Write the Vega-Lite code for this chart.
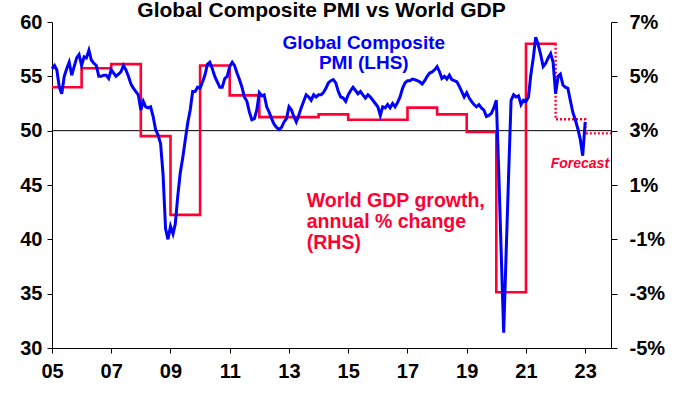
{
  "$schema": "https://vega.github.io/schema/vega-lite/v6.json",
  "width": 559,
  "height": 326,
  "autosize": "none",
  "padding": {"left": 52, "top": 22, "right": 71, "bottom": 46},
  "background": "white",
  "config": {
    "view": {"stroke": null},
    "font": "Liberation Sans",
    "axis": {
      "labelFont": "Liberation Sans",
      "labelFontWeight": "bold",
      "labelFontSize": 20,
      "labelColor": "black",
      "domainColor": "black",
      "tickColor": "black",
      "grid": false,
      "title": null
    }
  },
  "title": {
    "text": "Global Composite PMI vs World GDP",
    "font": "Liberation Sans",
    "fontSize": 21,
    "fontWeight": "bold",
    "color": "black",
    "anchor": "middle",
    "offset": -9,
    "dx": -10
  },
  "datasets": {
    "pmi": [
      {"date":"2005-01-01","pmi":55.7},{"date":"2005-02-01","pmi":56.0},{"date":"2005-03-01","pmi":55.6},{"date":"2005-04-01","pmi":54.0},{"date":"2005-05-01","pmi":53.4},{"date":"2005-06-01","pmi":55.0},{"date":"2005-07-01","pmi":55.7},{"date":"2005-08-01","pmi":56.3},{"date":"2005-09-01","pmi":55.1},{"date":"2005-10-01","pmi":55.9},{"date":"2005-11-01","pmi":56.7},{"date":"2005-12-01","pmi":57.0},
      {"date":"2006-01-01","pmi":56.0},{"date":"2006-02-01","pmi":56.8},{"date":"2006-03-01","pmi":56.7},{"date":"2006-04-01","pmi":57.4},{"date":"2006-05-01","pmi":56.5},{"date":"2006-06-01","pmi":56.2},{"date":"2006-07-01","pmi":56.0},{"date":"2006-08-01","pmi":55.0},{"date":"2006-09-01","pmi":55.0},{"date":"2006-10-01","pmi":55.1},{"date":"2006-11-01","pmi":55.1},{"date":"2006-12-01","pmi":54.8},
      {"date":"2007-01-01","pmi":55.6},{"date":"2007-02-01","pmi":55.3},{"date":"2007-03-01","pmi":55.0},{"date":"2007-04-01","pmi":55.2},{"date":"2007-05-01","pmi":55.4},{"date":"2007-06-01","pmi":56.0},{"date":"2007-07-01","pmi":55.6},{"date":"2007-08-01","pmi":55.0},{"date":"2007-09-01","pmi":54.3},{"date":"2007-10-01","pmi":53.9},{"date":"2007-11-01","pmi":53.6},{"date":"2007-12-01","pmi":53.3},
      {"date":"2008-01-01","pmi":51.9},{"date":"2008-02-01","pmi":52.7},{"date":"2008-03-01","pmi":52.2},{"date":"2008-04-01","pmi":52.1},{"date":"2008-05-01","pmi":52.2},{"date":"2008-06-01","pmi":51.3},{"date":"2008-07-01","pmi":50.1},{"date":"2008-08-01","pmi":49.6},{"date":"2008-09-01","pmi":48.8},{"date":"2008-10-01","pmi":46.0},{"date":"2008-11-01","pmi":41.0},{"date":"2008-12-01","pmi":40.0},
      {"date":"2009-01-01","pmi":41.2},{"date":"2009-02-01","pmi":40.5},{"date":"2009-03-01","pmi":41.4},{"date":"2009-04-01","pmi":44.0},{"date":"2009-05-01","pmi":46.1},{"date":"2009-06-01","pmi":47.5},{"date":"2009-07-01","pmi":49.1},{"date":"2009-08-01","pmi":50.7},{"date":"2009-09-01","pmi":51.9},{"date":"2009-10-01","pmi":53.6},{"date":"2009-11-01","pmi":53.6},{"date":"2009-12-01","pmi":54.0},
      {"date":"2010-01-01","pmi":53.9},{"date":"2010-02-01","pmi":54.5},{"date":"2010-03-01","pmi":55.1},{"date":"2010-04-01","pmi":56.1},{"date":"2010-05-01","pmi":56.3},{"date":"2010-06-01","pmi":55.7},{"date":"2010-07-01","pmi":55.0},{"date":"2010-08-01","pmi":54.5},{"date":"2010-09-01","pmi":54.0},{"date":"2010-10-01","pmi":54.0},{"date":"2010-11-01","pmi":54.8},{"date":"2010-12-01","pmi":55.0},
      {"date":"2011-01-01","pmi":55.9},{"date":"2011-02-01","pmi":56.3},{"date":"2011-03-01","pmi":56.0},{"date":"2011-04-01","pmi":55.3},{"date":"2011-05-01","pmi":54.7},{"date":"2011-06-01","pmi":54.0},{"date":"2011-07-01","pmi":53.1},{"date":"2011-08-01","pmi":52.7},{"date":"2011-09-01","pmi":51.7},{"date":"2011-10-01","pmi":51.0},{"date":"2011-11-01","pmi":51.1},{"date":"2011-12-01","pmi":51.9},
      {"date":"2012-01-01","pmi":53.5},{"date":"2012-02-01","pmi":53.2},{"date":"2012-03-01","pmi":53.3},{"date":"2012-04-01","pmi":52.2},{"date":"2012-05-01","pmi":51.7},{"date":"2012-06-01","pmi":51.1},{"date":"2012-07-01","pmi":50.6},{"date":"2012-08-01","pmi":50.3},{"date":"2012-09-01","pmi":50.1},{"date":"2012-10-01","pmi":50.3},{"date":"2012-11-01","pmi":50.8},{"date":"2012-12-01","pmi":51.1},
      {"date":"2013-01-01","pmi":52.2},{"date":"2013-02-01","pmi":51.9},{"date":"2013-03-01","pmi":51.3},{"date":"2013-04-01","pmi":50.8},{"date":"2013-05-01","pmi":51.4},{"date":"2013-06-01","pmi":52.1},{"date":"2013-07-01","pmi":52.7},{"date":"2013-08-01","pmi":53.3},{"date":"2013-09-01","pmi":53.1},{"date":"2013-10-01","pmi":52.8},{"date":"2013-11-01","pmi":53.3},{"date":"2013-12-01","pmi":53.1},
      {"date":"2014-01-01","pmi":53.3},{"date":"2014-02-01","pmi":53.3},{"date":"2014-03-01","pmi":53.5},{"date":"2014-04-01","pmi":53.9},{"date":"2014-05-01","pmi":54.4},{"date":"2014-06-01","pmi":54.6},{"date":"2014-07-01","pmi":54.7},{"date":"2014-08-01","pmi":54.4},{"date":"2014-09-01","pmi":53.6},{"date":"2014-10-01","pmi":53.1},{"date":"2014-11-01","pmi":53.0},{"date":"2014-12-01","pmi":52.7},
      {"date":"2015-01-01","pmi":53.3},{"date":"2015-02-01","pmi":53.7},{"date":"2015-03-01","pmi":54.0},{"date":"2015-04-01","pmi":53.7},{"date":"2015-05-01","pmi":53.4},{"date":"2015-06-01","pmi":53.6},{"date":"2015-07-01","pmi":53.3},{"date":"2015-08-01","pmi":53.0},{"date":"2015-09-01","pmi":53.3},{"date":"2015-10-01","pmi":53.1},{"date":"2015-11-01","pmi":52.8},{"date":"2015-12-01","pmi":52.5},
      {"date":"2016-01-01","pmi":52.2},{"date":"2016-02-01","pmi":51.4},{"date":"2016-03-01","pmi":52.2},{"date":"2016-04-01","pmi":52.1},{"date":"2016-05-01","pmi":52.4},{"date":"2016-06-01","pmi":52.1},{"date":"2016-07-01","pmi":52.5},{"date":"2016-08-01","pmi":52.2},{"date":"2016-09-01","pmi":52.6},{"date":"2016-10-01","pmi":53.1},{"date":"2016-11-01","pmi":53.9},{"date":"2016-12-01","pmi":54.4},
      {"date":"2017-01-01","pmi":54.6},{"date":"2017-02-01","pmi":54.6},{"date":"2017-03-01","pmi":54.75},{"date":"2017-04-01","pmi":54.7},{"date":"2017-05-01","pmi":54.6},{"date":"2017-06-01","pmi":54.5},{"date":"2017-07-01","pmi":54.3},{"date":"2017-08-01","pmi":54.6},{"date":"2017-09-01","pmi":55.0},{"date":"2017-10-01","pmi":55.3},{"date":"2017-11-01","pmi":55.4},{"date":"2017-12-01","pmi":55.6},
      {"date":"2018-01-01","pmi":55.9},{"date":"2018-02-01","pmi":55.4},{"date":"2018-03-01","pmi":54.8},{"date":"2018-04-01","pmi":55.0},{"date":"2018-05-01","pmi":54.75},{"date":"2018-06-01","pmi":55.1},{"date":"2018-07-01","pmi":54.7},{"date":"2018-08-01","pmi":54.6},{"date":"2018-09-01","pmi":54.5},{"date":"2018-10-01","pmi":54.1},{"date":"2018-11-01","pmi":53.6},{"date":"2018-12-01","pmi":53.1},
      {"date":"2019-01-01","pmi":53.5},{"date":"2019-02-01","pmi":53.0},{"date":"2019-03-01","pmi":52.7},{"date":"2019-04-01","pmi":52.4},{"date":"2019-05-01","pmi":52.2},{"date":"2019-06-01","pmi":52.4},{"date":"2019-07-01","pmi":52.1},{"date":"2019-08-01","pmi":51.9},{"date":"2019-09-01","pmi":51.3},{"date":"2019-10-01","pmi":51.4},{"date":"2019-11-01","pmi":51.6},{"date":"2019-12-01","pmi":52.1},
      {"date":"2020-01-01","pmi":52.8},{"date":"2020-02-01","pmi":46.0},{"date":"2020-03-01","pmi":38.8},{"date":"2020-04-01","pmi":31.4},{"date":"2020-05-01","pmi":38.7},{"date":"2020-06-01","pmi":46.0},{"date":"2020-07-01","pmi":52.8},{"date":"2020-08-01","pmi":53.3},{"date":"2020-09-01","pmi":53.1},{"date":"2020-10-01","pmi":53.2},{"date":"2020-11-01","pmi":52.4},{"date":"2020-12-01","pmi":52.8},
      {"date":"2021-01-01","pmi":52.7},{"date":"2021-02-01","pmi":53.1},{"date":"2021-03-01","pmi":55.1},{"date":"2021-04-01","pmi":56.7},{"date":"2021-05-01","pmi":58.6},{"date":"2021-06-01","pmi":57.9},{"date":"2021-07-01","pmi":57.0},{"date":"2021-08-01","pmi":55.9},{"date":"2021-09-01","pmi":56.2},{"date":"2021-10-01","pmi":56.7},{"date":"2021-11-01","pmi":57.1},{"date":"2021-12-01","pmi":56.3},
      {"date":"2022-01-01","pmi":53.4},{"date":"2022-02-01","pmi":55.0},{"date":"2022-03-01","pmi":55.2},{"date":"2022-04-01","pmi":54.2},{"date":"2022-05-01","pmi":54.0},{"date":"2022-06-01","pmi":53.9},{"date":"2022-07-01","pmi":52.8},{"date":"2022-08-01","pmi":51.7},{"date":"2022-09-01","pmi":51.0},{"date":"2022-10-01","pmi":50.2},{"date":"2022-11-01","pmi":49.2},{"date":"2022-12-01","pmi":47.7},
      {"date":"2023-01-01","pmi":50.8}
    ],
    "gdp": [
      {"date":"2005-01-01","gdp":4.6},{"date":"2006-01-01","gdp":5.3},{"date":"2007-01-01","gdp":5.45},{"date":"2008-01-01","gdp":2.8},{"date":"2009-01-01","gdp":-0.1},{"date":"2010-01-01","gdp":5.4},{"date":"2011-01-01","gdp":4.3},{"date":"2012-01-01","gdp":3.5},{"date":"2013-01-01","gdp":3.5},{"date":"2014-01-01","gdp":3.6},{"date":"2015-01-01","gdp":3.4},{"date":"2016-01-01","gdp":3.4},{"date":"2017-01-01","gdp":3.85},{"date":"2018-01-01","gdp":3.6},{"date":"2019-01-01","gdp":2.95},{"date":"2020-01-01","gdp":-2.95},{"date":"2021-01-01","gdp":6.2},{"date":"2022-01-01","gdp":6.2}
    ],
    "forecast": [
      {"date":"2021-12-31","gdp":6.2},{"date":"2022-01-01","gdp":3.42},{"date":"2023-01-01","gdp":2.9},{"date":"2023-11-15","gdp":2.9}
    ],
    "reference": [{"level": 3}],
    "notes": [
      {"label": "Global Composite\nPMI (LHS)"},
      {"label": "World GDP growth,\nannual % change\n(RHS)"},
      {"label": "Forecast"}
    ]
  },
  "layer": [
    {
      "layer": [
        {
          "data": {"name": "reference"},
          "mark": {"type": "rule", "color": "black", "strokeWidth": 1},
          "encoding": {
            "y": {"field": "level", "type": "quantitative", "scale": {"domain": [-5, 7], "nice": false, "zero": false},
                  "axis": {"orient": "right", "values": [-5, -3, -1, 1, 3, 5, 7], "labelExpr": "datum.value + '%'", "tickSize": 6, "labelPadding": 12}}
          }
        },
        {
          "data": {"name": "gdp"},
          "mark": {"type": "line", "color": "#ff0033", "strokeWidth": 2.6, "interpolate": "step-after"},
          "encoding": {
            "x": {"field": "date", "type": "temporal"},
            "y": {"field": "gdp", "type": "quantitative",
                  "axis": {"orient": "right", "values": [-5, -3, -1, 1, 3, 5, 7], "labelExpr": "datum.value + '%'", "tickSize": 6, "labelPadding": 12}}
          }
        },
        {
          "data": {"name": "forecast"},
          "mark": {"type": "line", "color": "#ff0033", "strokeWidth": 2.4, "strokeDash": [2, 2], "interpolate": "step-after"},
          "encoding": {
            "x": {"field": "date", "type": "temporal"},
            "y": {"field": "gdp", "type": "quantitative",
                  "axis": {"orient": "right", "values": [-5, -3, -1, 1, 3, 5, 7], "labelExpr": "datum.value + '%'", "tickSize": 6, "labelPadding": 12}}
          }
        }
      ]
    },
    {
      "layer": [
        {
          "data": {"name": "pmi"},
          "mark": {"type": "line", "color": "#0000ff", "strokeWidth": 3},
          "encoding": {
            "x": {"field": "date", "type": "temporal",
                  "scale": {"type": "utc", "domain": [{"year": 2005, "month": 1, "date": 1, "utc": true}, {"year": 2023, "month": 11, "date": 15, "utc": true}]},
                  "axis": {"values": [{"year": 2005, "utc": true}, {"year": 2007, "utc": true}, {"year": 2009, "utc": true}, {"year": 2011, "utc": true}, {"year": 2013, "utc": true}, {"year": 2015, "utc": true}, {"year": 2017, "utc": true}, {"year": 2019, "utc": true}, {"year": 2021, "utc": true}, {"year": 2023, "utc": true}],
                           "labelExpr": "utcFormat(datum.value, '%y')", "tickSize": 5, "labelPadding": 8, "labelFlush": false, "labelOverlap": false}},
            "y": {"field": "pmi", "type": "quantitative", "scale": {"domain": [30, 60], "nice": false, "zero": false},
                  "axis": {"orient": "left", "values": [30, 35, 40, 45, 50, 55, 60], "tickSize": 5, "labelPadding": 5}}
          }
        },
        {
          "data": {"name": "notes"},
          "transform": [{"filter": "datum.label === 'Global Composite\\nPMI (LHS)'"}],
          "mark": {"type": "text", "color": "#0000ff", "fontSize": 19, "fontWeight": "bold", "font": "Liberation Sans", "align": "center", "baseline": "alphabetic", "lineBreak": "\n", "lineHeight": 20},
          "encoding": {
            "x": {"datum": {"year": 2015, "month": 7, "date": 12, "utc": true}, "type": "temporal"},
            "y": {"datum": 57.5, "type": "quantitative"},
            "text": {"field": "label"}
          }
        },
        {
          "data": {"name": "notes"},
          "transform": [{"filter": "indexof(datum.label, 'World') === 0"}],
          "mark": {"type": "text", "color": "#ff0033", "fontSize": 19.5, "fontWeight": "bold", "font": "Liberation Sans", "align": "left", "baseline": "alphabetic", "lineBreak": "\n", "lineHeight": 21},
          "encoding": {
            "x": {"datum": {"year": 2013, "month": 8, "date": 8, "utc": true}, "type": "temporal"},
            "y": {"datum": 43.0, "type": "quantitative"},
            "text": {"field": "label"}
          }
        },
        {
          "data": {"name": "notes"},
          "transform": [{"filter": "datum.label === 'Forecast'"}],
          "mark": {"type": "text", "color": "#ff0033", "fontSize": 14, "fontWeight": "bold", "fontStyle": "italic", "font": "Liberation Sans", "align": "right", "baseline": "alphabetic"},
          "encoding": {
            "x": {"datum": {"year": 2023, "month": 10, "date": 22, "utc": true}, "type": "temporal"},
            "y": {"datum": 46.6, "type": "quantitative"},
            "text": {"field": "label"}
          }
        }
      ]
    }
  ],
  "resolve": {"scale": {"y": "independent"}, "axis": {"y": "independent"}}
}
